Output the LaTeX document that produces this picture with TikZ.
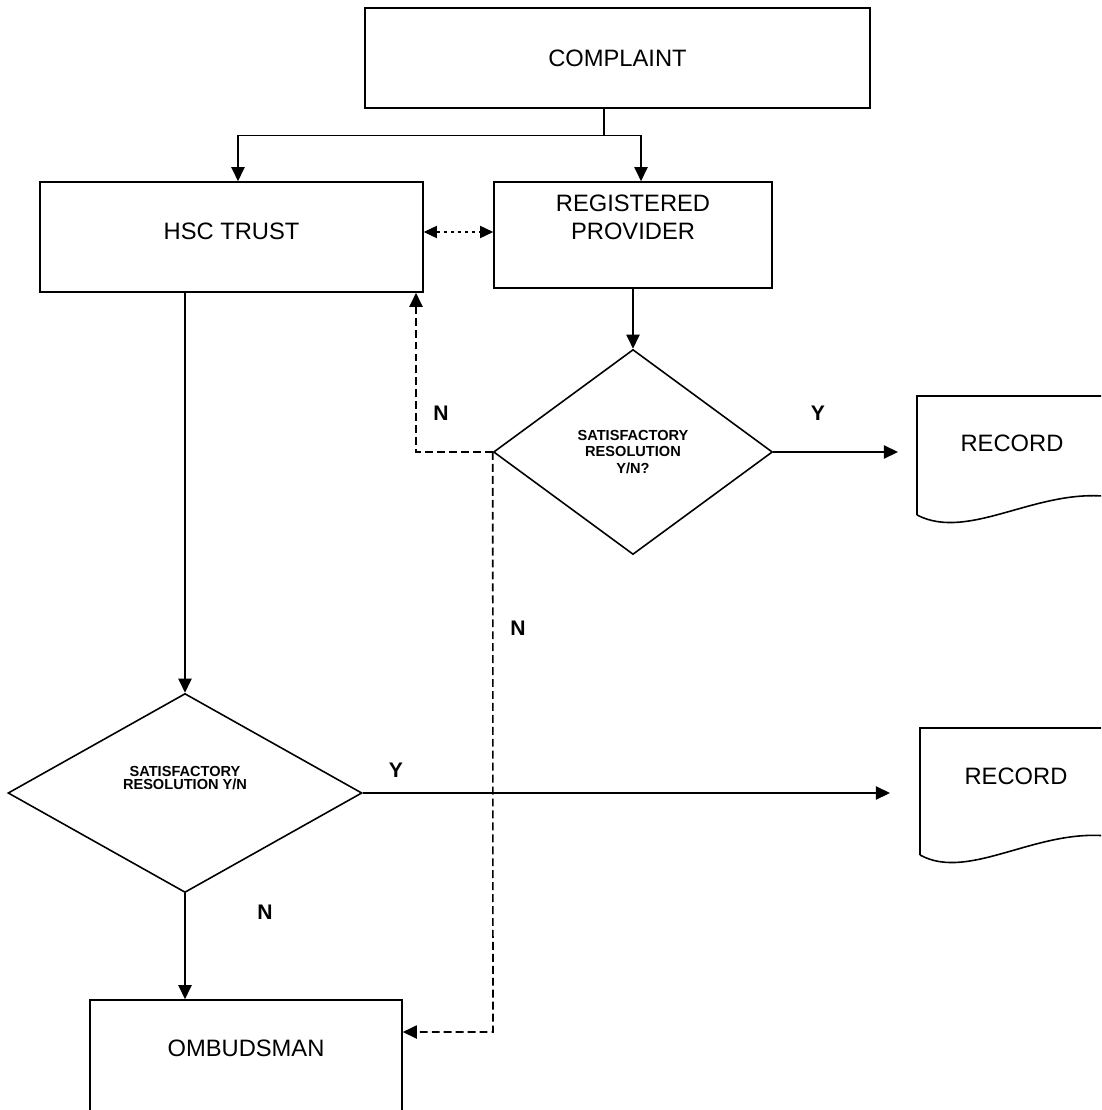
\documentclass[tikz,border=0pt]{standalone}
\usepackage{fontspec}
\setmainfont{Liberation Sans}
\usetikzlibrary{shapes.geometric,arrows.meta}

\begin{document}
\begin{tikzpicture}[auto,
    box/.style={draw, line width=0.9pt, rectangle, inner sep=0pt, font=\fontsize{13.5}{16}\selectfont},
    dec/.style={draw, line width=0.9pt, diamond, inner sep=0pt, align=center, font=\fontsize{8.3}{9.4}\selectfont\bfseries},
    lbl/.style={font=\fontsize{12}{14}\selectfont\bfseries},
    arr/.style={-{Triangle[length=8pt,width=7.5pt]}, line width=0.9pt},
    darr/.style={arr, dash pattern=on 4.5pt off 2.3pt}]
    \useasboundingbox (0,0) rectangle (22.02,-22.2);
    \clip (0,0) rectangle (22.02,-22.2);
    \node[box, minimum width=10.1cm, minimum height=2cm] (cmp) at (12.35,-1.16) {COMPLAINT};
    \node[box, minimum width=7.66cm, minimum height=2.2cm, text depth=0.24cm] (hsc) at (4.63,-4.74) {HSC TRUST};
    \node[box, minimum width=5.56cm, minimum height=2.12cm, align=center, text depth=0.72cm] (rp) at (12.66,-4.70) {REGISTERED\\PROVIDER};
    \node[dec, minimum width=5.58cm, minimum height=4.1cm] (q1) at (12.66,-9.04) {SATISFACTORY\\RESOLUTION\\Y/N?};
    \node[dec, minimum width=7.08cm, minimum height=3.98cm, text depth=0.6cm] (q2) at (3.7,-15.86) {SATISFACTORY\\[-1.8pt]RESOLUTION Y/N};
    \node[box, minimum width=6.24cm, minimum height=2.3cm, text depth=0.38cm] (omb) at (4.92,-21.15) {OMBUDSMAN};
    \node[font=\fontsize{13.5}{16}\selectfont] (rec1) at (20.24,-8.86) {RECORD};
    \node[font=\fontsize{13.5}{16}\selectfont] (rec2) at (20.32,-15.52) {RECORD};
    \draw[line width=0.9pt] (18.34,-10.30) -- (18.34,-7.92) -- (22.3,-7.92);
    \draw[line width=0.9pt] (18.34,-10.30) .. controls (19.4,-10.85) and (20.8,-9.7) .. (22.3,-9.95);
    \draw[line width=0.9pt] (18.40,-17.10) -- (18.40,-14.56) -- (22.3,-14.56);
    \draw[line width=0.9pt] (18.40,-17.10) .. controls (19.4,-17.65) and (20.8,-16.5) .. (22.3,-16.74);
    \coordinate (sp) at (12.08,-2.71);
    \draw[line width=0.9pt] (cmp.south -| sp) -- (sp);
    \draw[arr] (sp) -| ([xshift=0.13cm]hsc.north);
    \draw[arr] (sp) -| ([xshift=0.16cm]rp.north);
    \draw[line width=0.6pt, dash pattern=on 2pt off 2pt, {Triangle[length=7.5pt,width=7pt]}-{Triangle[length=7.5pt,width=7pt]}] ([yshift=0.1cm]hsc.east) -- ([yshift=0.1cm]hsc.east -| rp.west);
    \draw[arr] (rp.south) -- (q1.north);
    \coordinate (nb) at (8.32,-9.04);
    \draw[darr] (q1.west) -- (nb) -- (nb |- hsc.south);
    \node[lbl] (n1) at (8.82,-8.26) {N};
    \coordinate (no) at (9.86,-20.64);
    \draw[darr] (q1.west) -- (no) -- (no -| omb.east);
    \node[lbl] (n2) at (10.36,-12.56) {N};
    \coordinate (y1) at (17.96,-9.04);
    \draw[arr] (q1.east) -- (y1);
    \node[lbl] (y1l) at (16.36,-8.26) {Y};
    \draw[arr] (hsc.south -| q2.north) -- (q2.north);
    \coordinate (y2) at (17.8,-15.86);
    \draw[arr] (q2.east) -- (y2);
    \node[lbl] (y2l) at (7.92,-15.4) {Y};
    \draw[arr] (q2.south) -- (q2.south |- omb.north);
    \node[lbl] (n3) at (5.3,-18.24) {N};
  \end{tikzpicture}
\end{document}
